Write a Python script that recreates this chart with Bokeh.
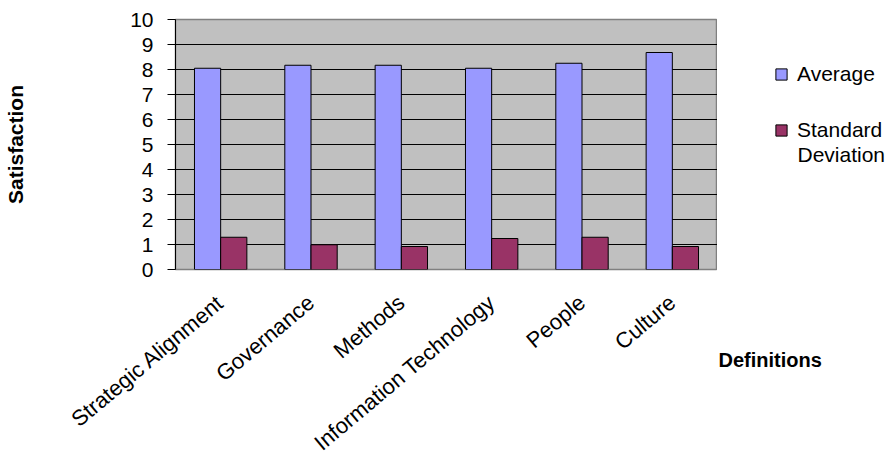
import math
from bokeh.plotting import figure
from bokeh.layouts import row, column
from bokeh.models import (ColumnDataSource, FactorRange, Legend, LegendItem, Label,
                          FixedTicker, Range1d)
from bokeh.transform import dodge
from bokeh.embed import file_html
from bokeh.resources import INLINE

categories = ["Strategic Alignment", "Governance", "Methods",
              "Information Technology", "People", "Culture"]
average = [8.05, 8.17, 8.17, 8.05, 8.25, 8.68]
std_dev = [1.29, 0.99, 0.92, 1.24, 1.29, 0.92]
y_ticks = [0, 1, 2, 3, 4, 5, 6, 7, 8, 9, 10]
series_names = ["Average", "Standard", "Deviation"]
x_title = "Definitions"
y_title = "Satisfaction"

FONT = "Liberation Sans"
AVG_COLOR = "#9999FF"
SD_COLOR = "#993366"

src = ColumnDataSource(dict(cat=categories, avg=average, sd=std_dev))

# ---------------- main chart ----------------
p = figure(x_range=FactorRange(*categories, range_padding=0),
           y_range=Range1d(0, 10),
           frame_width=542, frame_height=250,
           min_border_left=175, min_border_right=0,
           min_border_top=19, min_border_bottom=191,
           output_backend="svg", toolbar_location=None)

p.background_fill_color = "#C0C0C0"
p.border_fill_color = "white"
p.outline_line_color = "#808080"
p.outline_line_width = 1.5

p.vbar(x=dodge("cat", -0.145, range=p.x_range), top="avg", width=0.29,
       source=src, fill_color=AVG_COLOR, line_color="black", line_width=1)
p.vbar(x=dodge("cat", 0.145, range=p.x_range), top="sd", width=0.29,
       source=src, fill_color=SD_COLOR, line_color="black", line_width=1)

p.xgrid.grid_line_color = None
p.ygrid.grid_line_color = "black"
p.ygrid.grid_line_width = 1
p.ygrid.ticker = FixedTicker(ticks=y_ticks)

p.yaxis.ticker = FixedTicker(ticks=y_ticks)
p.yaxis.axis_line_color = "black"
p.yaxis.major_tick_line_color = "black"
p.yaxis.major_tick_out = 8
p.yaxis.major_tick_in = 0
p.yaxis.minor_tick_line_color = None
p.yaxis.major_label_text_font = FONT
p.yaxis.major_label_text_font_size = "21px"
p.yaxis.major_label_text_color = "black"
p.yaxis.major_label_standoff = 14
p.yaxis.axis_label = y_title
p.yaxis.axis_label_text_font = FONT
p.yaxis.axis_label_text_font_style = "bold"
p.yaxis.axis_label_text_font_size = "21px"
p.yaxis.axis_label_text_color = "black"
p.yaxis.axis_label_standoff = 100

p.xaxis.axis_line_color = None
p.xaxis.major_tick_line_color = None
p.xaxis.minor_tick_line_color = None
p.xaxis.major_label_orientation = math.radians(40)
p.xaxis.major_label_text_font = FONT
p.xaxis.major_label_text_font_size = "22px"
p.xaxis.major_label_text_color = "black"
p.xaxis.major_label_standoff = 24


def blank_fig(fw, fh, top=0):
    f = figure(frame_width=fw, frame_height=fh,
               x_range=Range1d(0, fw), y_range=Range1d(0, fh),
               min_border_left=0, min_border_top=top,
               min_border_right=0, min_border_bottom=0,
               x_axis_location=None, y_axis_location=None,
               output_backend="svg", toolbar_location=None)
    f.grid.visible = False
    f.outline_line_color = None
    f.background_fill_color = "white"
    f.border_fill_color = "white"
    return f


# ---------------- legend block (x 717..891, y 0..200) ----------------
q1 = blank_fig(174, 138, top=62)
# hidden renderers that only lend their style to the legend swatches
d1 = q1.vbar(x="avg", top="sd", width=0.29, source=src, visible=False,
             fill_color=AVG_COLOR, line_color="black")
d2 = q1.vbar(x="avg", top="sd", width=0.29, source=src, visible=False,
             fill_color=SD_COLOR, line_color="black")
legend = Legend(items=[LegendItem(label=series_names[0], renderers=[d1]),
                       LegendItem(label=series_names[1], renderers=[d2])],
                location="top_right", orientation="vertical",
                border_line_color=None, background_fill_alpha=0,
                inactive_fill_alpha=0,
                label_text_font=FONT, label_text_font_size="21px",
                label_text_color="black", label_height=24, label_width=94,
                glyph_width=14, glyph_height=14, spacing=32,
                margin=0, padding=0, label_standoff=9)
q1.add_layout(legend, "center")
q1.add_layout(Label(x=797 - 717, y=200 - 154, text=series_names[2],
                    text_align="left", text_baseline="middle", text_font=FONT,
                    text_font_size="21px", text_color="black"))

# ---------------- x title block (x 717..891, y 200..460) ----------------
q2 = blank_fig(174, 260)
q2.add_layout(Label(x=1, y=460 - 359, text=x_title, text_align="left",
                    text_baseline="alphabetic", text_font=FONT,
                    text_font_style="bold", text_font_size="20px",
                    text_color="black"))

layout = row(p, column(q1, q2, spacing=0), spacing=0)
open("out.html", "w").write(file_html(layout, INLINE))
